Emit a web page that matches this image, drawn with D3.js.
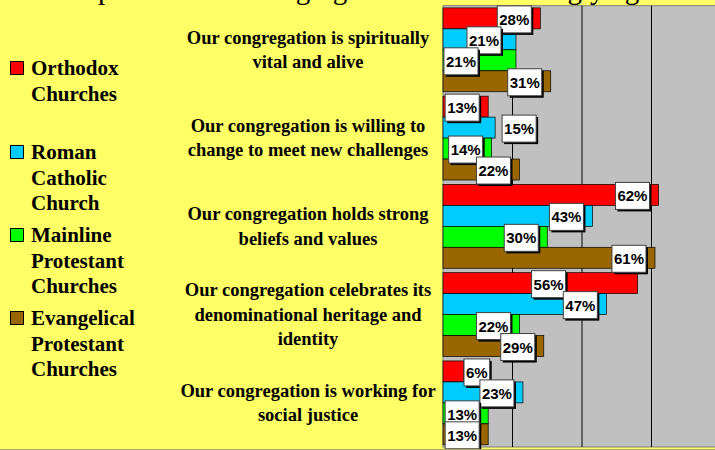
<!DOCTYPE html>
<html>
<head>
<meta charset="utf-8">
<script src="https://cdn.jsdelivr.net/npm/d3@7"></script>
<style>
  body { margin: 0; background: #ffff66; }
  svg { display: block; }
</style>
</head>
<body>
<svg id="chart" width="715" height="450"></svg>
<script>
// title is mostly cut off at the top of the picture, only descenders show
const titleText = "Description of own congregation: % who strongly agree"

const categories = [
    ["Our congregation is spiritually", "vital and alive"],
    ["Our congregation is willing to", "change to meet new challenges"],
    ["Our congregation holds strong", "beliefs and values"],
    ["Our congregation celebrates its", "denominational heritage and", "identity"],
    ["Our congregation is working for", "social justice"]
]

const seriesNames = [
    ["Orthodox", "Churches"],
    ["Roman", "Catholic", "Church"],
    ["Mainline", "Protestant", "Churches"],
    ["Evangelical", "Protestant", "Churches"]
]

const orthodox = [28, 13, 62, 56, 6]
const catholic = [21, 15, 43, 47, 23]
const mainline = [21, 14, 30, 22, 13]
const evangelical = [31, 22, 61, 29, 13]

const gridTicks = [20, 40, 60, 80]

const colors = ["#ff0000", "#00ccff", "#00ff00", "#996600"]

// manual nudges of some data labels (they were dragged around in the original)
const labelNudge = { "0-1": -6, "0-2": -29, "1-1": 50, "3-0": -63, "4-0": 39 }

const series = [orthodox, catholic, mainline, evangelical]

const svg = d3.select("#chart")
const serif = "'Book Antiqua', 'Palatino Linotype', 'Liberation Serif', serif"
const sans = "Arial, 'Liberation Sans', sans-serif"

const plot = { left: 443, top: 5.7, bottom: 447 }

let x = d3.scaleLinear().domain([0, 100]).range([plot.left, plot.left + 347.5])
let y = d3.scaleBand()
    .domain(d3.range(categories.length))
    .range([plot.top, plot.bottom])
    .paddingInner(0.05)
    .paddingOuter(0.025)
let ySub = d3.scaleBand()
    .domain(d3.range(series.length))
    .range([0, y.bandwidth()])

// title (clipped by the top edge, as in the original)
let title = svg.append("text")
    .attr("y", -1)
    .attr("font-family", serif)
    .attr("font-size", 30)
    .attr("fill", "#000")
    .text(titleText)
// line the visible descenders up with the picture
let pIdx = titleText.indexOf("p")
let gIdx = titleText.lastIndexOf("g")
let node = title.node()
let p0 = node.getStartPositionOfChar(pIdx).x
let g0 = node.getStartPositionOfChar(gIdx).x
let s = (625 - 98) / (g0 - p0)
title.attr("font-size", 30 * s).attr("x", 98 - p0 * s)

// plot area
svg.append("rect")
    .attr("x", plot.left)
    .attr("y", plot.top)
    .attr("width", 800 - plot.left)
    .attr("height", plot.bottom - plot.top)
    .attr("fill", "#c0c0c0")
    .attr("stroke", "#808080")
    .attr("stroke-width", 1)

svg.append("g")
    .selectAll("line")
    .data(gridTicks)
    .join("line")
    .attr("x1", (d) => x(d))
    .attr("x2", (d) => x(d))
    .attr("y1", plot.top)
    .attr("y2", plot.bottom)
    .attr("stroke", "#000")
    .attr("stroke-width", 1)

// bars
let groups = svg.append("g")
    .selectAll("g")
    .data(categories)
    .join("g")
    .attr("transform", (d, i) => `translate(0,${y(i)})`)

groups.selectAll("rect")
    .data((d, i) => series.map((vals, k) => ({ cat: i, k: k, v: vals[i] })))
    .join("rect")
    .attr("x", x(0))
    .attr("y", (d) => ySub(d.k))
    .attr("width", (d) => x(d.v) - x(0))
    .attr("height", ySub.bandwidth())
    .attr("fill", (d) => colors[d.k])
    .attr("stroke", "#000")
    .attr("stroke-width", 0.7)

// data labels
for (let i = 0; i < categories.length; i++) {
    for (let k = 0; k < series.length; k++) {
        let v = series[k][i]
        let cx = x(v) - 26 + (labelNudge[`${i}-${k}`] || 0)
        let cy = y(i) + ySub(k) + ySub.bandwidth() / 2 + 1
        let lab = svg.append("g")
        let shadow = lab.append("rect").attr("fill", "#000")
        let box = lab.append("rect").attr("fill", "#fff").attr("stroke", "#404040").attr("stroke-width", 1)
        let t = lab.append("text")
            .attr("x", cx)
            .attr("y", cy)
            .attr("text-anchor", "middle")
            .attr("dominant-baseline", "central")
            .attr("font-family", sans)
            .attr("font-weight", "bold")
            .attr("font-size", 15)
            .attr("fill", "#000")
            .text(v + "%")
        let w = t.node().getComputedTextLength() + 4
        let h = 27
        shadow.attr("x", cx - w / 2 + 2).attr("y", cy - h / 2 + 2).attr("width", w).attr("height", h)
        box.attr("x", cx - w / 2).attr("y", cy - h / 2).attr("width", w).attr("height", h)
    }
}

// category labels
let lineH = 24.5
categories.forEach((lines, i) => {
    let mid = y(i) + y.bandwidth() / 2
    let t = svg.append("text")
        .attr("text-anchor", "middle")
        .attr("font-family", serif)
        .attr("font-weight", "bold")
        .attr("font-size", 18.5)
        .attr("fill", "#000")
    lines.forEach((line, j) => {
        t.append("tspan")
            .attr("x", 308)
            .attr("y", mid + (j - (lines.length - 1) / 2) * lineH + 6)
            .text(line)
    })
})

// legend
let legendTops = [61, 145, 228, 311]
seriesNames.forEach((lines, k) => {
    let top = legendTops[k]
    svg.append("rect")
        .attr("x", 10.5)
        .attr("y", top + 0.5)
        .attr("width", 13)
        .attr("height", 13)
        .attr("fill", colors[k])
        .attr("stroke", "#000")
        .attr("stroke-width", 1)
    let t = svg.append("text")
        .attr("font-family", serif)
        .attr("font-weight", "bold")
        .attr("font-size", 21)
        .attr("fill", "#000")
    lines.forEach((line, j) => {
        t.append("tspan")
            .attr("x", 31)
            .attr("y", top + 14 + j * 25.7)
            .text(line)
    })
})

svg.append("line")
    .attr("x1", 0).attr("x2", 715)
    .attr("y1", 449.5).attr("y2", 449.5)
    .attr("stroke", "#a8a860")
    .attr("stroke-width", 1)
</script>
</body>
</html>
